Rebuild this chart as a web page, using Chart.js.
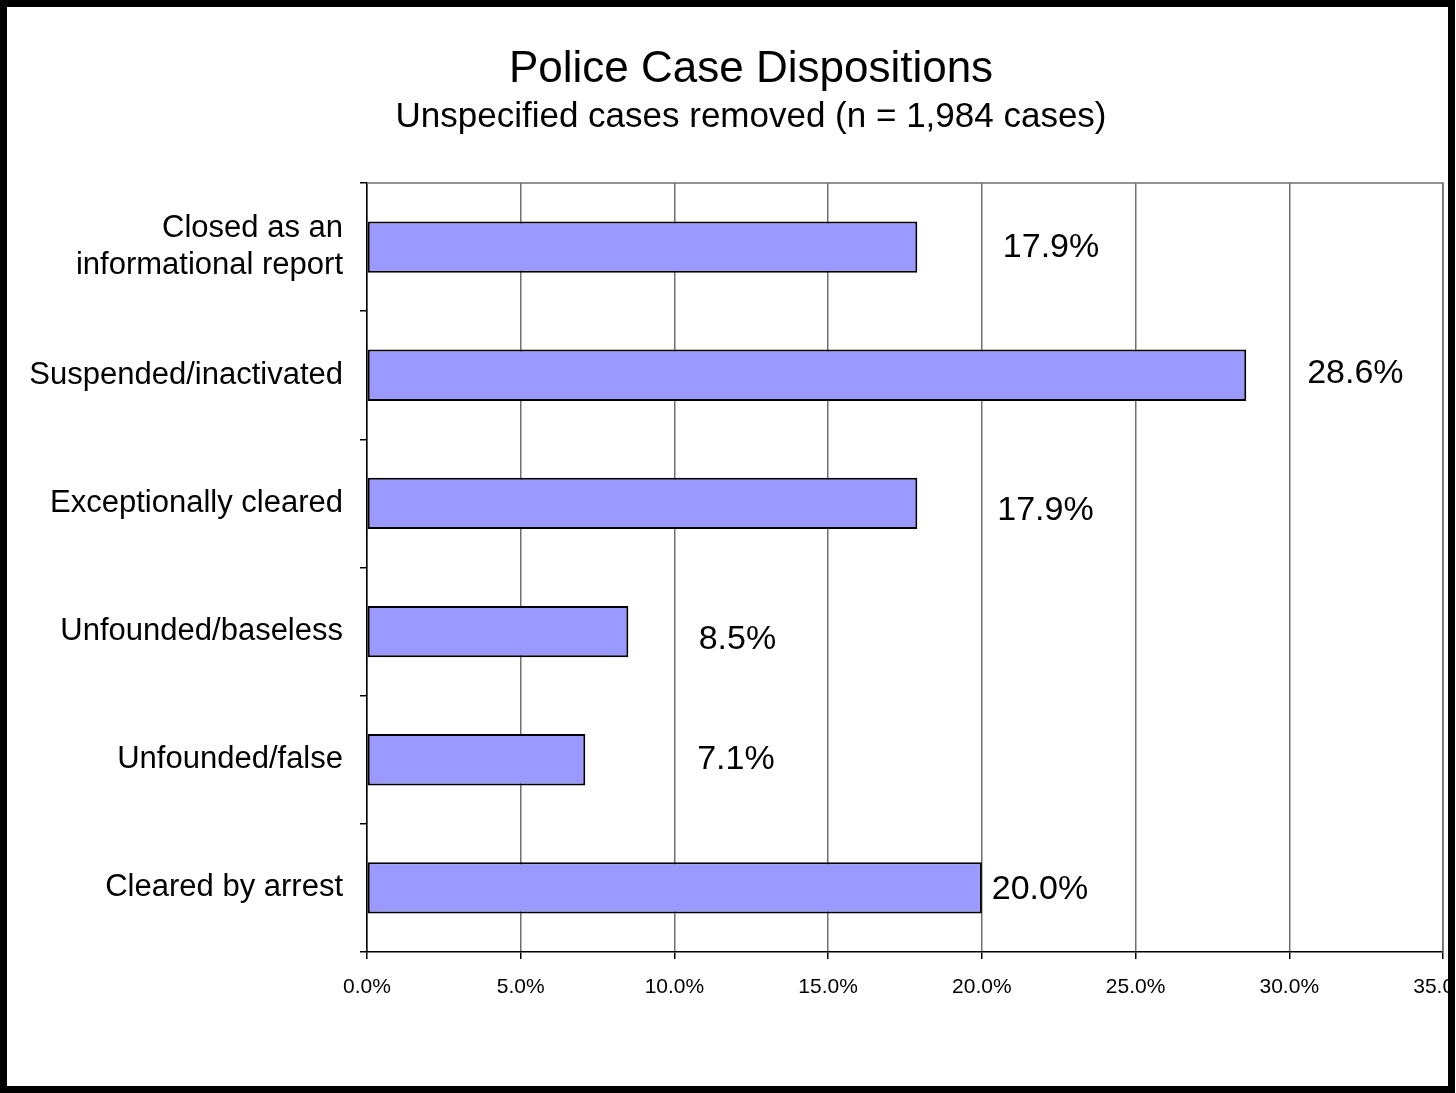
<!DOCTYPE html>
<html>
<head>
<meta charset="utf-8">
<script src="https://cdn.jsdelivr.net/npm/chart.js@4"></script>
<style>
  html, body { margin: 0; padding: 0; background: #fff; overflow: hidden; }
  #clip { position: absolute; left: 0; top: 0; width: 1448px; height: 1093px; overflow: hidden; }
  #frame { position: absolute; left: 0; top: 0; width: 1455px; height: 1093px; box-sizing: border-box; border: 7px solid #000; pointer-events: none; }
</style>
</head>
<body>
<div id="clip"><canvas id="c" width="1540" height="1093" style="width:1540px;height:1093px"></canvas></div>
<div id="frame"></div>
<script>
// ---- data ----
const categories = [
  ['Closed as an', 'informational report'],
  'Suspended/inactivated',
  'Exceptionally cleared',
  'Unfounded/baseless',
  'Unfounded/false',
  'Cleared by arrest'
];
const percentages = [17.9, 28.6, 17.9, 8.5, 7.1, 20.0];
const valueLabels = ['17.9%', '28.6%', '17.9%', '8.5%', '7.1%', '20.0%'];
const xTickValues = [0, 5, 10, 15, 20, 25, 30, 35];
const xTickLabels = ['0.0%', '5.0%', '10.0%', '15.0%', '20.0%', '25.0%', '30.0%', '35.0%'];
const titleText = 'Police Case Dispositions';
const subtitleText = 'Unspecified cases removed (n = 1,984 cases)';

// ---- label placement (manually moved labels, in axis value units) ----
const labelAnchorValue = [22.25, 32.15, 22.07, 12.05, 12.0, 21.89];
const labelDy = [1, -2, 7, 8, 0, 2];

const FONT = '"Liberation Sans", Arial, sans-serif';
const W = 1540;

const titlePlugin = {
  id: 'titles',
  afterDraw(chart) {
    const ctx = chart.ctx;
    ctx.save();
    ctx.fillStyle = '#000';
    ctx.textAlign = 'center';
    ctx.textBaseline = 'alphabetic';
    ctx.font = '44px ' + FONT;
    ctx.fillText(titleText, 751, 82);
    ctx.font = '35px ' + FONT;
    ctx.fillText(subtitleText, 751, 127);
    ctx.restore();
  }
};

const framePlugin = {
  id: 'plotFrame',
  beforeDatasetsDraw(chart) {
    const { ctx, chartArea } = chart;
    ctx.save();
    ctx.strokeStyle = '#707070';
    ctx.lineWidth = 1.5;
    ctx.beginPath();
    ctx.moveTo(chartArea.left, chartArea.top);
    ctx.lineTo(chartArea.right, chartArea.top);
    ctx.lineTo(chartArea.right, chartArea.bottom);
    ctx.stroke();
    ctx.restore();
  }
};

const valueLabelPlugin = {
  id: 'valueLabels',
  afterDatasetsDraw(chart) {
    const ctx = chart.ctx;
    const meta = chart.getDatasetMeta(0);
    const xs = chart.scales.x;
    ctx.save();
    ctx.fillStyle = '#000';
    ctx.font = '34px ' + FONT;
    ctx.textAlign = 'center';
    ctx.textBaseline = 'middle';
    meta.data.forEach((bar, i) => {
      const x = xs.getPixelForValue(labelAnchorValue[i]);
      ctx.fillText(valueLabels[i], x, bar.y + labelDy[i]);
    });
    ctx.restore();
  }
};

new Chart(document.getElementById('c'), {
  type: 'bar',
  data: {
    labels: categories,
    datasets: [{
      data: percentages,
      backgroundColor: '#9999FF',
      borderColor: '#000',
      borderWidth: 2,
      borderSkipped: false,
      barPercentage: 0.4,
      categoryPercentage: 1.0
    }]
  },
  options: {
    indexAxis: 'y',
    responsive: false,
    animation: false,
    devicePixelRatio: 1,
    layout: { padding: { left: 20, top: 183, right: W - 1443, bottom: 0 } },
    plugins: {
      legend: { display: false },
      title: { display: false },
      tooltip: { enabled: false }
    },
    scales: {
      x: {
        min: 0, max: 35,
        afterBuildTicks(scale) { scale.ticks = xTickValues.map(v => ({ value: v })); },
        afterFit(scale) { scale.height = 141; scale.paddingLeft = 0; scale.paddingRight = 0; },
        ticks: {
          callback: (v, i) => xTickLabels[i],
          color: '#000',
          font: { family: FONT, size: 21 },
          padding: 16,
          maxRotation: 0,
          autoSkip: false
        },
        grid: { color: '#707070', lineWidth: 1.5, tickColor: '#000', tickLength: 7 },
        border: { display: true, color: '#000', width: 1.5 }
      },
      y: {
        afterFit(scale) { scale.width = 347; scale.paddingTop = 0; scale.paddingBottom = 0; },
        ticks: {
          color: '#000',
          font: { family: FONT, size: 31, lineHeight: 1.2 },
          padding: 17,
          autoSkip: false
        },
        grid: { drawOnChartArea: false, drawTicks: true, tickLength: 7, color: '#000', lineWidth: 1.5, offset: true },
        border: { display: true, color: '#000', width: 1.5 }
      }
    }
  },
  plugins: [framePlugin, valueLabelPlugin, titlePlugin]
});
</script>
</body>
</html>
